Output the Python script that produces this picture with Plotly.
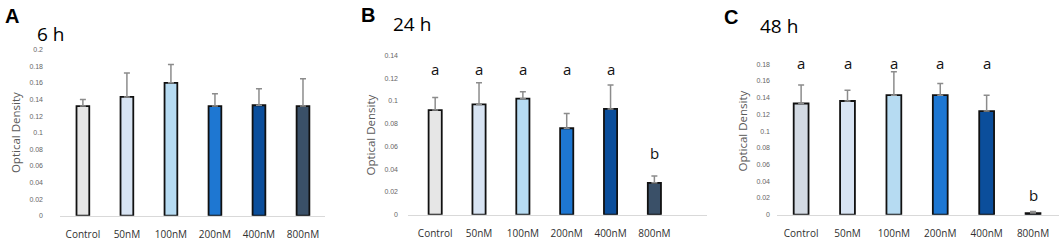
import plotly.graph_objects as go

# ---------------- data ----------------
categories = ["Control", "50nM", "100nM", "200nM", "400nM", "800nM"]

od_6h = [0.132, 0.143, 0.160, 0.132, 0.133, 0.132]
sd_6h = [0.008, 0.029, 0.022, 0.015, 0.020, 0.033]

od_24h = [0.092, 0.097, 0.102, 0.076, 0.093, 0.028]
sd_24h = [0.011, 0.019, 0.006, 0.013, 0.021, 0.006]
letters_24h = ["a", "a", "a", "a", "a", "b"]

od_48h = [0.133, 0.136, 0.143, 0.143, 0.124, 0.002]
sd_48h = [0.022, 0.013, 0.028, 0.014, 0.019, 0.002]
letters_48h = ["a", "a", "a", "a", "a", "b"]

colors_a = ["#e6e6e6", "#d8e4f3", "#b6dbf2", "#1e77d2", "#0b4e9b", "#3a5068"]
colors_c = ["#d3dae3", "#d8e4f3", "#b6dbf2", "#1e77d2", "#0b4e9b", "#3a5068"]

ticks_6h = [0, 0.02, 0.04, 0.06, 0.08, 0.1, 0.12, 0.14, 0.16, 0.18, 0.2]
ticks_24h = [0, 0.02, 0.04, 0.06, 0.08, 0.1, 0.12, 0.14]
ticks_48h = [0, 0.02, 0.04, 0.06, 0.08, 0.1, 0.12, 0.14, 0.16, 0.18]

W, H = 1059, 242

def px(x):
    return x / W

def py(y):
    return 1 - y / H

fig = go.Figure()

panels = [
    dict(vals=od_6h, sd=sd_6h, colors=colors_a, xa="x", ya="y", width=0.29),
    dict(vals=od_24h, sd=sd_24h, colors=colors_a, xa="x2", ya="y2", width=0.30),
    dict(vals=od_48h, sd=sd_48h, colors=colors_c, xa="x3", ya="y3", width=0.32),
]

for p in panels:
    fig.add_trace(go.Bar(
        x=categories, y=p["vals"],
        marker=dict(color=p["colors"], line=dict(color="#111111", width=1.8)),
        width=p["width"],
        error_y=dict(type="data", array=p["sd"], symmetric=False,
                     arrayminus=[0] * len(p["sd"]),
                     color="#8c8c8c", thickness=1.5, width=3),
        xaxis=p["xa"], yaxis=p["ya"], showlegend=False, cliponaxis=False,
        hoverinfo="skip",
    ))

def fmt(v):
    return "0" if v == 0 else ("%g" % v)

tickfont = dict(family="Liberation Sans, Arial", size=7, color="#666666")
catfont = dict(family="Open Sans, Liberation Sans", size=10, color="#303030")
titlefont = dict(family="Open Sans, Liberation Sans", size=11.5, color="#595959")

xcommon = dict(type="category", showgrid=False, zeroline=False, showline=True,
               linecolor="#d9d9d9", linewidth=1, ticks="", tickfont=catfont,
               ticklabelstandoff=9)
ycommon = dict(showgrid=False, zeroline=False, showline=False, ticks="",
               tickfont=tickfont, title_font=titlefont)

# C axis: 0 at y=217 px, 0.18 at y=62 px -> 0.2 at about y=45 px
c_top = 217 - (217 - 62) * 0.2 / 0.18

fig.update_layout(
    width=W, height=H, margin=dict(l=0, r=0, t=0, b=0),
    paper_bgcolor="white", plot_bgcolor="white",
    xaxis=dict(domain=[px(60), px(325)], range=[-0.52, 5.5], anchor="y", **xcommon),
    yaxis=dict(domain=[py(218), py(47)], range=[0, 0.2], anchor="x",
               tickvals=ticks_6h, ticktext=[fmt(v) for v in ticks_6h],
               ticklabelstandoff=16,
               title=dict(text="Optical Density", standoff=6), **ycommon),
    xaxis2=dict(domain=[px(408), px(707)], range=[-0.62, 6.2], anchor="y2", **xcommon),
    yaxis2=dict(domain=[py(217), py(53)], range=[0, 0.14], anchor="x2",
                tickvals=ticks_24h, ticktext=[fmt(v) for v in ticks_24h],
                ticklabelstandoff=9,
                title=dict(text="Optical Density", standoff=6), **ycommon),
    xaxis3=dict(domain=[px(777), px(1059)], range=[-0.52, 5.56], anchor="y3", **xcommon),
    yaxis3=dict(domain=[py(217), py(c_top)], range=[0, 0.2], anchor="x3",
                tickvals=ticks_48h, ticktext=[fmt(v) for v in ticks_48h],
                ticklabelstandoff=6,
                title=dict(text="Optical Density", standoff=6), **ycommon),
)

# significance letters
def add_letters(letters, vals, sd, xref, yref, a_level):
    for cat, let, v, s in zip(categories, letters, vals, sd):
        y = a_level if let == "a" else v + s + 0.02
        fig.add_annotation(x=cat, y=y, xref=xref, yref=yref, text=let,
                           showarrow=False, yanchor="middle",
                           font=dict(family="Open Sans, Liberation Sans", size=15,
                                     color="#111111"))

add_letters(letters_24h, od_24h, sd_24h, "x2", "y2", 0.128)
add_letters(letters_48h, od_48h, sd_48h, "x3", "y3", 0.182)

# panel letters and titles (y = vertical centre in px)
for letter, x, y in [("A", 3, 12), ("B", 359, 11), ("C", 722, 13)]:
    fig.add_annotation(x=px(x), y=py(y), xref="paper", yref="paper", text="<b>%s</b>" % letter,
                       showarrow=False, xanchor="left", yanchor="middle",
                       font=dict(family="Liberation Sans, Arial", size=20, color="#000000"))

for title, x, y in [("6 h", 35, 31), ("24 h", 391, 21), ("48 h", 758, 23)]:
    fig.add_annotation(x=px(x), y=py(y), xref="paper", yref="paper", text=title,
                       showarrow=False, xanchor="left", yanchor="middle",
                       font=dict(family="Open Sans, Liberation Sans", size=19, color="#000000"))

fig.write_html("out.html",
               config={"displayModeBar": False},
               post_script="document.body.style.margin='0';document.body.style.overflow='hidden';")
